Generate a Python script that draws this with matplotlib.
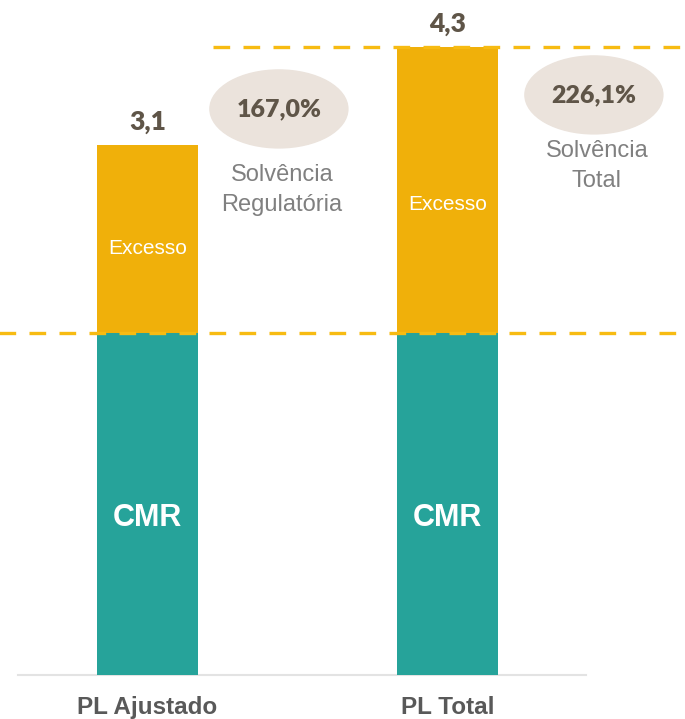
import matplotlib.pyplot as plt
from matplotlib.patches import Ellipse

# Data (bar heights as drawn in the slide, labels as printed)
categorias = ['PL Ajustado', 'PL Total']
cmr = [2.0, 2.0]
excesso = [1.1, 1.67]
totais = ['3,1', '4,3']
solvencia = ['167,0%', '226,1%']
solvencia_nome = ['Solvência\nRegulatória', 'Solvência\nTotal']

teal = '#26a39a'
amarelo = '#f0b00a'
tracejado = '#f7bb12'
cinza_num = '#5f5548'
elipse_cor = '#ebe3dc'

fig = plt.figure(figsize=(6.85, 7.19), dpi=100)
ax = fig.add_axes([0, 44 / 719, 1, 675 / 719])
ax.set_xlim(-0.4917, 1.7917)
ax.set_ylim(0, 3.947)
ax.axis('off')

x = range(len(categorias))
ax.bar(x, cmr, width=0.337, color=teal, zorder=2)
ax.bar(x, excesso, width=0.337, bottom=cmr, color=amarelo, zorder=2)

# base line
ax.plot([-0.432, 1.462], [0, 0], color='#e3e3e3', lw=1.5, zorder=1, clip_on=False)

# dashed reference lines
tot = [c + e for c, e in zip(cmr, excesso)]
ls = (0, (5, 4))
ax.plot([-0.6, 1.9], [cmr[0], cmr[0]], color=tracejado, lw=2.4, ls=ls,
        dash_capstyle='butt', zorder=3)
ax.plot([0.218, 1.9], [tot[1], tot[1]], color=tracejado, lw=2.4, ls=ls,
        dash_capstyle='butt', zorder=3)

num_font = ['Lato', 'DejaVu Sans']
txt_font = ['Liberation Sans', 'DejaVu Sans']

for i in x:
    ax.annotate(totais[i], (i, tot[i]), xytext=(0, 8), textcoords='offset points',
                ha='center', va='bottom', fontsize=19, fontweight='heavy',
                color=cinza_num, family=num_font)
    ax.text(i, cmr[i] + excesso[i] * 0.45, 'Excesso', ha='center', va='center',
            fontsize=15, color='white', family=txt_font)
    ax.text(i, cmr[i] * 0.46, 'CMR', ha='center', va='center', fontsize=22,
            fontweight='bold', color='white', family=txt_font)
    ax.text(i, -0.19, categorias[i], ha='center', va='center', fontsize=17.5,
            fontweight='bold', color='#595959', family=txt_font, clip_on=False)

# solvency badges
centros = [(0.438, 3.31), (1.488, 3.392)]
nome_y = [2.836, 2.977]
for i, (cx, cy) in enumerate(centros):
    ax.add_patch(Ellipse((cx, cy), 0.46, 0.456, color=elipse_cor, zorder=2))
    ax.text(cx, cy, solvencia[i], ha='center', va='center', fontsize=18,
            fontweight='heavy', color=cinza_num, family=num_font, zorder=3)
    ax.text(cx + 0.01, nome_y[i], solvencia_nome[i], ha='center', va='center',
            fontsize=17, color='#808080', family=txt_font, linespacing=1.5)

fig.savefig('out.png', dpi=100)
